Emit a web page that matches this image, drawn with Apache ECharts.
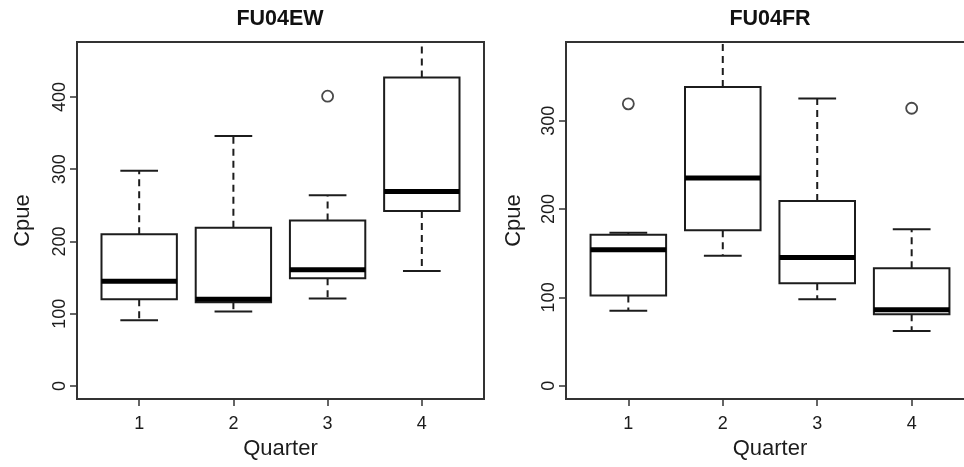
<!DOCTYPE html>
<html>
<head>
<meta charset="utf-8">
<title>Cpue by quarter</title>
<script src="https://cdn.jsdelivr.net/npm/echarts@6/dist/echarts.min.js"></script>
<style>
  html, body { margin: 0; padding: 0; background: #fff; }
  #chart { width: 964px; height: 467px; }
</style>
</head>
<body>
<div id="chart"></div>
<script>
const quarters = [1, 2, 3, 4]
const xTicks = [1, 2, 3, 4]

// FU04EW (left panel)
const ewLow = [91, 103, 121, 159]
const ewQ1 = [120, 116, 149, 242]
const ewMed = [145, 120, 161, 269]
const ewQ3 = [210, 219, 229, 427]
const ewHigh = [298, 346, 264, 480]
const ewOutliers = [[3, 401]]
const ewTicks = [0, 100, 200, 300, 400]

// FU04FR (right panel)
const frLow = [85, 147, 98, 62]
const frQ1 = [102, 176, 116, 81]
const frMed = [154, 235, 145, 86]
const frQ3 = [171, 338, 209, 133]
const frHigh = [173, 395, 325, 177]
const frOutliers = [[1, 319], [4, 314]]
const frTicks = [0, 100, 200, 300]

const FONT = 'Liberation Sans, Arial, Helvetica, sans-serif'
const INK = '#1c1c1c'
const FRAME = '#333'

const chart = echarts.init(document.getElementById('chart'))

function boxRows(low, q1, med, q3, high) {
  return quarters.map((q, i) => [q, low[i], q1[i], med[i], q3[i], high[i]])
}

// R style box: dashed whiskers, half-width staples, thick median
function renderBox(params, api) {
  const x = api.value(0)
  const pLow = api.coord([x, api.value(1)])
  const pQ1 = api.coord([x, api.value(2)])
  const pMed = api.coord([x, api.value(3)])
  const pQ3 = api.coord([x, api.value(4)])
  const pHigh = api.coord([x, api.value(5)])
  const w = api.size([0.8, 0])[0]
  const cx = pMed[0]
  const solid = { stroke: INK, lineWidth: 2, fill: null }
  const dashed = { stroke: INK, lineWidth: 2, lineDash: [7, 5], fill: null }
  return {
    type: 'group',
    children: [
      { type: 'line', shape: { x1: cx, y1: pQ3[1], x2: cx, y2: pHigh[1] }, style: dashed },
      { type: 'line', shape: { x1: cx, y1: pQ1[1], x2: cx, y2: pLow[1] }, style: dashed },
      { type: 'line', shape: { x1: cx - w / 4, y1: pHigh[1], x2: cx + w / 4, y2: pHigh[1] }, style: solid },
      { type: 'line', shape: { x1: cx - w / 4, y1: pLow[1], x2: cx + w / 4, y2: pLow[1] }, style: solid },
      { type: 'rect', shape: { x: cx - w / 2, y: pQ3[1], width: w, height: pQ1[1] - pQ3[1] },
        style: { stroke: INK, lineWidth: 2, fill: '#fff' } },
      { type: 'line', shape: { x1: cx - w / 2, y1: pMed[1], x2: cx + w / 2, y2: pMed[1] },
        style: { stroke: '#000', lineWidth: 5 } }
    ]
  }
}

function xAxisFor(idx) {
  return {
    type: 'value',
    gridIndex: idx,
    min: 0.34,
    max: 4.66,
    name: 'Quarter',
    nameLocation: 'middle',
    nameGap: 38,
    nameTextStyle: { fontFamily: FONT, fontSize: 22, color: INK },
    axisLine: { show: false, onZero: false },
    splitLine: { show: false },
    axisTick: { show: true, customValues: xTicks, length: 7, lineStyle: { color: FRAME, width: 1.5 } },
    axisLabel: { customValues: xTicks, margin: 16, fontFamily: FONT, fontSize: 18, color: INK }
  }
}

function yAxisFor(idx, min, max, ticks, gap) {
  return {
    type: 'value',
    gridIndex: idx,
    min: min,
    max: max,
    name: 'Cpue',
    nameLocation: 'middle',
    nameGap: gap,
    nameTextStyle: { fontFamily: FONT, fontSize: 22, color: INK },
    axisLine: { show: false, onZero: false },
    splitLine: { show: false },
    axisTick: { show: true, customValues: ticks, length: 7, lineStyle: { color: FRAME, width: 1.5 } },
    axisLabel: { customValues: ticks, rotate: 90, margin: 8, fontFamily: FONT, fontSize: 18, color: INK }
  }
}

const outlierStyle = { color: 'rgba(0,0,0,0)', borderColor: INK, borderWidth: 1.8 }

chart.setOption({
  backgroundColor: '#fff',
  animation: false,
  title: [
    { text: 'FU04EW', left: 280, top: 8, textAlign: 'center', padding: 0,
      textStyle: { fontFamily: FONT, fontSize: 21.5, fontWeight: 'bold', color: '#111' } },
    { text: 'FU04FR', left: 770, top: 8, textAlign: 'center', padding: 0,
      textStyle: { fontFamily: FONT, fontSize: 21.5, fontWeight: 'bold', color: '#111' } }
  ],
  grid: [
    { left: 77, top: 42, width: 407, height: 357, outerBoundsMode: 'none',
      show: true, borderColor: FRAME, borderWidth: 2, backgroundColor: 'transparent' },
    { left: 566, top: 42, width: 408, height: 357, outerBoundsMode: 'none',
      show: true, borderColor: FRAME, borderWidth: 2, backgroundColor: 'transparent' }
  ],
  xAxis: [xAxisFor(0), xAxisFor(1)],
  yAxis: [
    yAxisFor(0, -18, 476, ewTicks, 43),
    yAxisFor(1, -15, 389, frTicks, 41)
  ],
  series: [
    {
      type: 'custom', xAxisIndex: 0, yAxisIndex: 0, clip: true,
      renderItem: renderBox,
      encode: { x: 0, y: [1, 2, 3, 4, 5] },
      data: boxRows(ewLow, ewQ1, ewMed, ewQ3, ewHigh)
    },
    {
      type: 'scatter', xAxisIndex: 0, yAxisIndex: 0,
      symbol: 'circle', symbolSize: 11, itemStyle: outlierStyle,
      data: ewOutliers
    },
    {
      type: 'custom', xAxisIndex: 1, yAxisIndex: 1, clip: true,
      renderItem: renderBox,
      encode: { x: 0, y: [1, 2, 3, 4, 5] },
      data: boxRows(frLow, frQ1, frMed, frQ3, frHigh)
    },
    {
      type: 'scatter', xAxisIndex: 1, yAxisIndex: 1,
      symbol: 'circle', symbolSize: 11, itemStyle: outlierStyle,
      data: frOutliers
    }
  ]
})
</script>
</body>
</html>
